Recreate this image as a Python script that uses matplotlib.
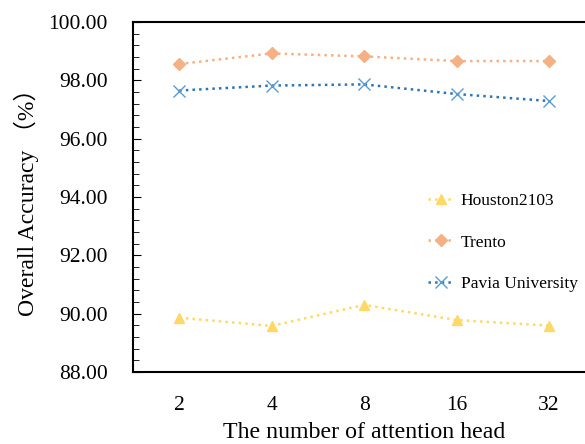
import matplotlib.pyplot as plt

heads = ["2", "4", "8", "16", "32"]
houston = [89.86, 89.58, 90.30, 89.78, 89.59]
trento = [98.56, 98.92, 98.82, 98.66, 98.66]
pavia = [97.65, 97.82, 97.86, 97.53, 97.29]

plt.rcParams["font.family"] = ["Liberation Serif", "Noto Sans CJK SC"]

fig = plt.figure(figsize=(5.85, 4.44), dpi=100)
ax = fig.add_axes([0.2274, 0.1622, 0.79, 0.7883])

x = range(len(heads))
ax.plot(x, houston, linestyle=":", color="#FFD966", linewidth=1.8,
        marker="^", markersize=7, label="Houston2103")
ax.plot(x, trento, linestyle=":", color="#F4B183", linewidth=1.8,
        marker="D", markersize=6, label="Trento")
ax.plot(x, pavia, linestyle=":", color="#2E75B6", linewidth=1.8,
        marker="x", markersize=8, markeredgecolor="#5B9BD5", label="Pavia University")

ax.set_xlim(-0.5, 4.5)
ax.set_ylim(88, 100)
ax.set_xticks(list(x))
ax.set_xticklabels(heads)
ax.set_yticks([88, 90, 92, 94, 96, 98, 100])
ax.set_yticklabels([f"{v:.2f}" for v in [88, 90, 92, 94, 96, 98, 100]])
ax.set_yticks([88 + 0.4 * i for i in range(31)], minor=True)
ax.tick_params(axis="y", which="major", direction="in", length=6, labelsize=15.5, pad=18)
ax.tick_params(axis="y", which="minor", direction="in", length=4)
ax.tick_params(axis="x", length=0, labelsize=15.5, pad=17)
for s in ax.spines.values():
    s.set_linewidth(1.5)

ax.set_xlabel("The number of attention head", fontsize=17.2, labelpad=5)
ax.set_ylabel("Overall Accuracy （%）", fontsize=17, labelpad=7)

ax.legend(loc="center left", bbox_to_anchor=(0.604, 0.37), frameon=False,
          fontsize=12.5, labelspacing=1.45, handlelength=1.5, handletextpad=0.4)

fig.savefig("out.png", dpi=100)
